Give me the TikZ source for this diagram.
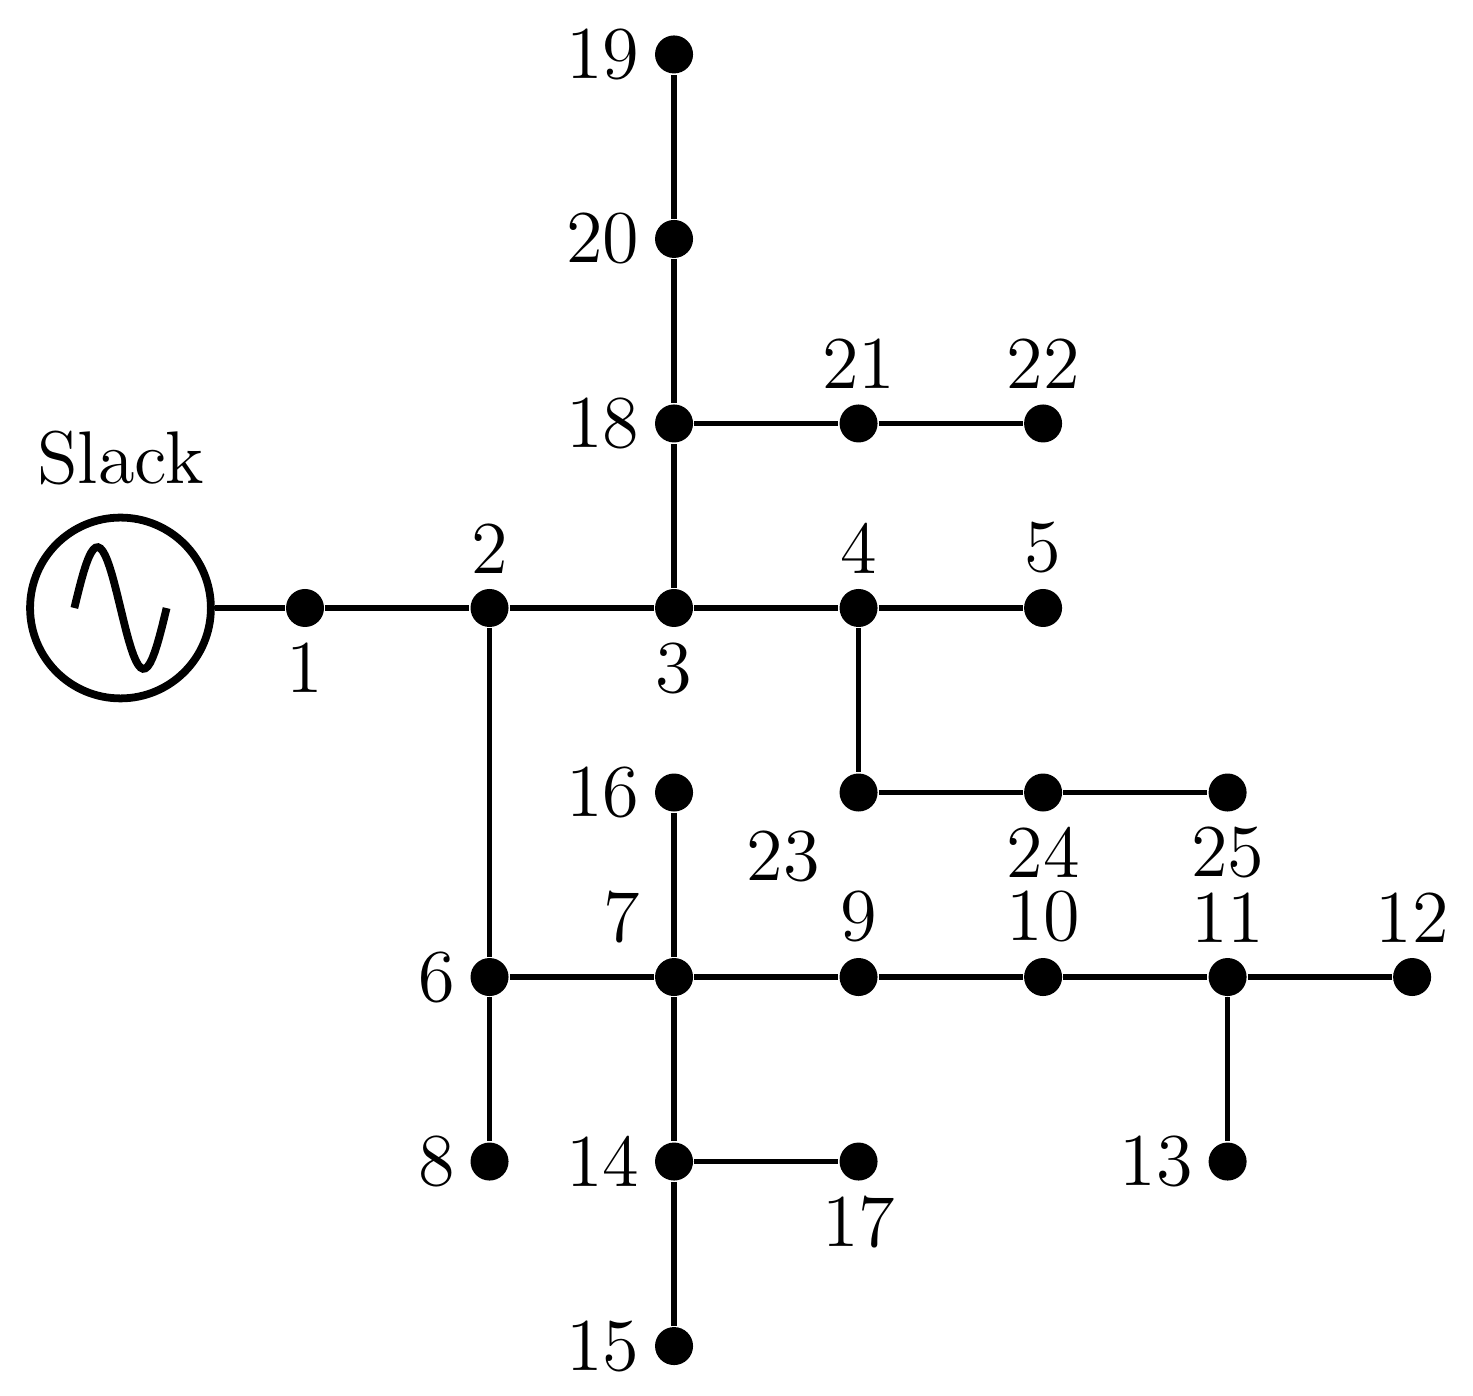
\documentclass[tikz,border=0pt]{standalone}
\usepackage{tikz}

\tikzset{
  bus/.style={circle, fill=black, inner sep=0pt, minimum size=0.206cm},
  every label/.style={inner sep=0pt, font=\fontsize{11.5}{14}\selectfont},
  line/.style={line width=0.8pt}
}

\begin{document}
\begin{tikzpicture}[label distance=2pt]
            \useasboundingbox (-0.653,-4.266) rectangle (7.330,3.295);

            % slack generator
            \node[draw, circle, line width=1.2pt, minimum size=0.98cm, inner sep=0pt] (g) at (0,0) {};
            \draw[line width=1.2pt] plot[domain=-0.25:0.25, samples=40] (\x, {0.33*sin(720*(\x+0.25))});
            \node[font=\fontsize{11.5}{14}\selectfont] (slack) at (0,0.813) {Slack};

            % buses
            \node[bus, label=below:1] (b1) at (1,0) {};
            \node[bus, label=above:2] (b2) at (2,0) {};
            \node[bus, label=below:3] (b3) at (3,0) {};
            \node[bus, label=above:4] (b4) at (4,0) {};
            \node[bus, label=above:5] (b5) at (5,0) {};
            \node[bus, label=left:6] (b6) at (2,-2) {};
            \node[bus, label={[label distance=4pt]above left:7}] (b7) at (3,-2) {};
            \node[bus, label=left:8] (b8) at (2,-3) {};
            \node[bus, label=above:9] (b9) at (4,-2) {};
            \node[bus, label=above:10] (b10) at (5,-2) {};
            \node[bus, label=above:11] (b11) at (6,-2) {};
            \node[bus, label=above:12] (b12) at (7,-2) {};
            \node[bus, label=left:13] (b13) at (6,-3) {};
            \node[bus, label=left:14] (b14) at (3,-3) {};
            \node[bus, label=left:15] (b15) at (3,-4) {};
            \node[bus, label=left:16] (b16) at (3,-1) {};
            \node[bus, label=below:17] (b17) at (4,-3) {};
            \node[bus, label=left:18] (b18) at (3,1) {};
            \node[bus, label=left:19] (b19) at (3,3) {};
            \node[bus, label=left:20] (b20) at (3,2) {};
            \node[bus, label=above:21] (b21) at (4,1) {};
            \node[bus, label=above:22] (b22) at (5,1) {};
            \node[bus, label={[label distance=5pt]below left:23}] (b23) at (4,-1) {};
            \node[bus, label=below:24] (b24) at (5,-1) {};
            \node[bus, label=below:25] (b25) at (6,-1) {};

            % lines
            \draw[line] (g) -- (b1) -- (b2) -- (b3) -- (b4) -- (b5);
            \draw[line] (b3) -- (b18) -- (b20) -- (b19);
            \draw[line] (b18) -- (b21) -- (b22);
            \draw[line] (b4) -- (b23) -- (b24) -- (b25);
            \draw[line] (b2) -- (b6) -- (b8);
            \draw[line] (b6) -- (b7) -- (b9) -- (b10) -- (b11) -- (b12);
            \draw[line] (b11) -- (b13);
            \draw[line] (b16) -- (b7) -- (b14) -- (b15);
            \draw[line] (b14) -- (b17);
        \end{tikzpicture}
\end{document}
